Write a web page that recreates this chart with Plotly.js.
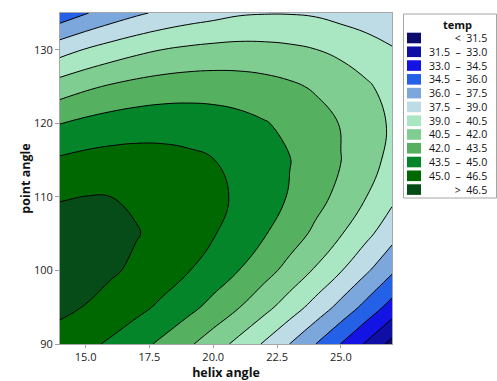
<!DOCTYPE html>
<html>
<head>
<meta charset="utf-8">
<script src="https://cdn.plot.ly/plotly-3.0.1.min.js"></script>
<style>html,body{margin:0;padding:0;background:#fff;}#chart{width:497px;height:381px;}</style>
</head>
<body>
<div id="chart"></div>
<script>
// helix angle grid (x) and point angle grid (y)
var helixAngle = [14, 15, 16, 17, 18, 19, 20, 21, 22, 23, 24, 25, 26, 27];
var pointAngle = [90, 95, 100, 105, 110, 115, 120, 125, 130, 135];
// temp values, one row per point angle
var temp90  = [45.90, 45.38, 44.76, 44.03, 43.20, 42.26, 41.22, 40.08, 38.83, 37.48, 36.02, 34.46, 32.79, 31.02];
var temp95  = [46.82, 46.45, 45.98, 45.40, 44.72, 43.94, 43.05, 42.05, 40.96, 39.75, 38.45, 37.03, 35.52, 33.90];
var temp100 = [47.22, 47.00, 46.67, 46.25, 45.72, 45.08, 44.34, 43.50, 42.55, 41.50, 40.34, 39.08, 37.71, 36.24];
var temp105 = [47.08, 47.01, 46.84, 46.56, 46.18, 45.69, 45.10, 44.41, 43.61, 42.71, 41.70, 40.59, 39.38, 38.06];
var temp110 = [46.41, 46.52, 46.50, 46.34, 46.11, 45.77, 45.33, 44.79, 44.14, 43.39, 42.53, 41.57, 40.50, 39.34];
var temp115 = [45.20, 45.44, 45.56, 45.59, 45.51, 45.32, 45.03, 44.64, 44.14, 43.54, 42.83, 42.02, 41.10, 40.08];
var temp120 = [43.47, 43.85, 44.13, 44.30, 44.37, 44.34, 44.20, 43.95, 43.60, 43.15, 42.60, 41.93, 41.17, 40.30];
var temp125 = [41.20, 41.74, 42.16, 42.49, 42.71, 42.82, 42.83, 42.74, 42.54, 42.24, 41.83, 41.32, 40.70, 39.98];
var temp130 = [38.41, 39.09, 39.66, 40.14, 40.51, 40.77, 40.93, 40.99, 40.94, 40.79, 40.53, 40.17, 39.70, 39.14];
var temp135 = [35.07, 35.91, 36.63, 37.26, 37.78, 38.19, 38.50, 38.83, 38.93, 38.93, 38.82, 38.49, 38.17, 37.76];

// contour levels and band colours (lowest band first)
var levels = [31.5, 33.0, 34.5, 36.0, 37.5, 39.0, 40.5, 42.0, 43.5, 45.0, 46.5];
var bandColors = ['#0c0c6c', '#0f0fa6', '#1313e4', '#2461e6', '#7ca7dc', '#bddce6',
                  '#a8e7c1', '#80cd92', '#55b05f', '#05852a', '#006800', '#064c18'];
var xTicks = [15, 17.5, 20, 22.5, 25];
var yTicks = [90, 100, 110, 120, 130];

var zGrid = [temp90, temp95, temp100, temp105, temp110, temp115, temp120, temp125, temp130, temp135];
var nb = bandColors.length;
var colorscale = bandColors.map(function (c, i) { return [i / (nb - 1), c]; });

var trace = {
  type: 'contour',
  x: helixAngle, y: pointAngle, z: zGrid,
  autocontour: false,
  contours: { start: levels[0], end: levels[levels.length - 1], size: levels[1] - levels[0], coloring: 'fill' },
  colorscale: colorscale,
  showscale: false,
  line: { color: '#000', width: 1, smoothing: 1.2 },
  hoverinfo: 'skip'
};

// plot area in pixels
var L = 60, R = 392, T = 13, B = 344;
function px(x) { return (x - L) / (R - L); }
function py(y) { return (B - y) / (B - T); }

var shapes = [];
var annotations = [];
var NB = '\u00a0';
var legendFont = { family: 'Open Sans, Noto Sans, sans-serif', size: 10.6, color: '#111' };
var rowGap = 13.78;

shapes.push({ type: 'rect', xref: 'paper', yref: 'paper', x0: px(403.5), x1: px(496.5), y0: py(14), y1: py(198),
  line: { color: '#a6a6a6', width: 1 }, fillcolor: '#fff', layer: 'above' });
annotations.push({ xref: 'paper', yref: 'paper', x: px(457), y: py(24.5), text: 'temp', showarrow: false,
  xanchor: 'center', yanchor: 'middle', borderpad: 0,
  font: { family: legendFont.family, size: 11, color: '#111', weight: 700 } });

var labels = [];
for (var i = 0; i < nb; i++) {
  var cy = 38 + rowGap * i;
  shapes.push({ type: 'rect', xref: 'paper', yref: 'paper', x0: px(407), x1: px(421), y0: py(cy - 5.3), y1: py(cy + 5.3),
    line: { width: 0 }, fillcolor: bandColors[i], layer: 'above' });
  if (i === 0) labels.push('<' + NB + NB + levels[0].toFixed(1));
  else if (i === nb - 1) labels.push('>' + NB + NB + levels[nb - 2].toFixed(1));
  else labels.push(levels[i - 1].toFixed(1) + NB + NB + '\u2013' + NB + NB + levels[i].toFixed(1));
}
annotations.push({ xref: 'paper', yref: 'paper', x: px(488), y: py(38 + rowGap * (nb - 1) / 2),
  text: labels.join('<br>'), align: 'right', showarrow: false,
  xanchor: 'right', yanchor: 'middle', borderpad: 0, font: legendFont });

var tickFont = { family: 'Open Sans, Noto Sans, sans-serif', size: 11, color: '#222' };
var titleFont = { family: 'Open Sans, Noto Sans, sans-serif', size: 12.5, color: '#111', weight: 700 };

var layout = {
  width: 497, height: 381,
  margin: { l: L, r: 497 - R, t: T, b: 381 - B, pad: 0 },
  paper_bgcolor: '#fff', plot_bgcolor: '#fff',
  showlegend: false,
  xaxis: {
    range: [14, 27], tickvals: xTicks, ticktext: xTicks.map(function (v) { return v.toFixed(1); }),
    ticks: 'outside', ticklen: 3, tickcolor: '#a0a0a0', showline: true, linecolor: '#a6a6a6', linewidth: 1,
    mirror: true, showgrid: false, zeroline: false, tickfont: tickFont,
    title: { text: 'helix angle', font: titleFont, standoff: 9 }
  },
  yaxis: {
    range: [90, 135], tickvals: yTicks, ticktext: yTicks.map(String),
    ticks: 'outside', ticklen: 4, tickcolor: '#a0a0a0', showline: true, linecolor: '#a6a6a6', linewidth: 1,
    mirror: true, showgrid: false, zeroline: false, tickfont: tickFont,
    title: { text: 'point angle', font: titleFont, standoff: 0 }
  },
  shapes: shapes,
  annotations: annotations
};

Plotly.newPlot('chart', [trace], layout, { displayModeBar: false, staticPlot: true });
</script>
</body>
</html>
